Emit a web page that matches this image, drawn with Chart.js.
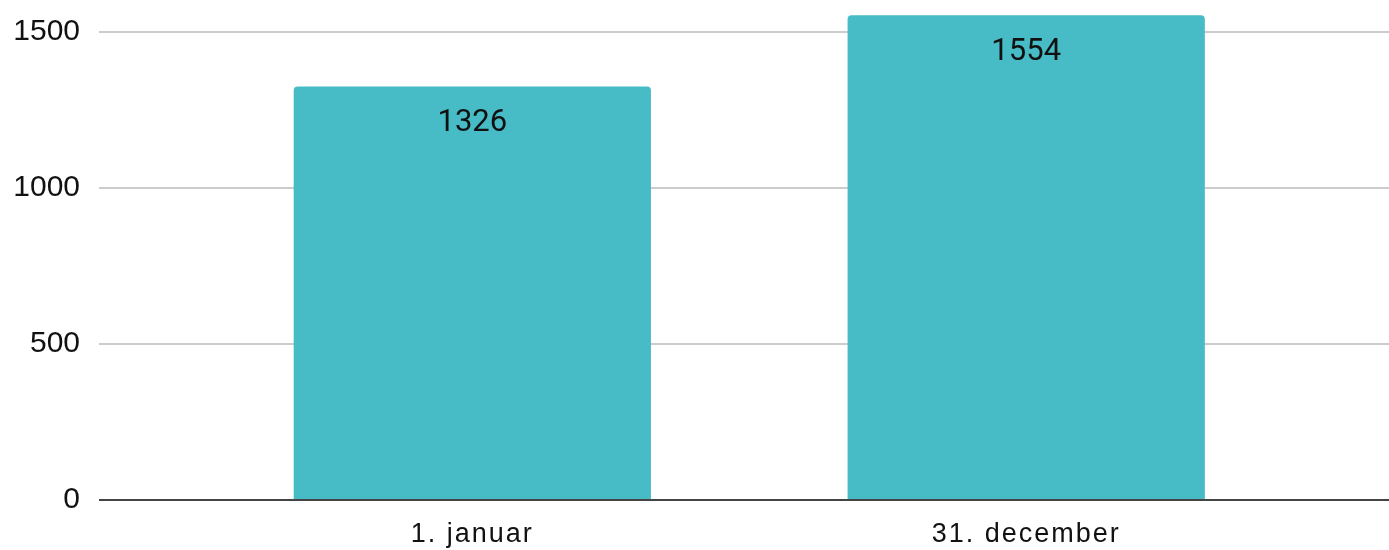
<!DOCTYPE html>
<html>
<head>
<meta charset="utf-8">
<script src="https://cdn.jsdelivr.net/npm/chart.js@4/dist/chart.umd.min.js"></script>
<style>
    body { margin: 0; background: #fff; }
    .wrap { width: 1389px; height: 550px; }
</style>
</head>
<body>
<div class="wrap"><canvas id="chart"></canvas></div>
<script>
// Data
const categories = ['1. januar', '31. december']
const values = [1326, 1554]
const yTicks = [0, 500, 1000, 1500]

let canvas = document.querySelector('#chart')

// value labels inside the top of each bar,
// then spaced-out letters for the category labels (drawn after datasets, z: 1)
const barLabels = {
    id: 'barLabels',
    afterDatasetsDraw(chart) {
        let ctx = chart.ctx
        let meta = chart.getDatasetMeta(0)
        ctx.save()
        ctx.letterSpacing = '0px'
        ctx.font = '31px Roboto'
        ctx.fillStyle = '#111'
        ctx.textAlign = 'center'
        ctx.textBaseline = 'alphabetic'
        meta.data.forEach((bar, i) => {
            ctx.fillText(String(values[i]), bar.x, bar.y + 45)
        })
        ctx.restore()
        ctx.letterSpacing = '2px'
    },
    afterDraw(chart) {
        chart.ctx.letterSpacing = '0px'
    }
}

const data = {
    datasets: [
        {
            data: values.map((v, i) => ({ x: i, y: v })),
            backgroundColor: '#47bbc6',
            borderWidth: 0,
            borderRadius: { topLeft: 4, topRight: 4 },
            borderSkipped: 'start',
            categoryPercentage: 1,
            barPercentage: 0.645
        }
    ]
}

const config = {
    type: 'bar',
    data: data,
    plugins: [barLabels],
    options: {
        responsive: true,
        maintainAspectRatio: false,
        animation: false,
        layout: {
            padding: { top: 1, left: 0, right: 0, bottom: 0 }
        },
        plugins: {
            legend: { display: false },
            tooltip: { enabled: false }
        },
        scales: {
            x: {
                type: 'linear',
                offset: false,
                min: -0.674,
                max: 1.655,
                afterBuildTicks: (scale) => {
                    scale.ticks = categories.map((c, i) => ({ value: i }))
                },
                afterFit: (scale) => {
                    scale.height = 50
                    scale.paddingLeft = 0
                    scale.paddingRight = 0
                },
                grid: { display: false },
                border: { display: false },
                ticks: {
                    z: 1,
                    callback: (value) => categories[value],
                    color: '#111',
                    padding: 10,
                    maxRotation: 0,
                    autoSkip: false,
                    font: { family: "'Liberation Sans', Arial", size: 27 }
                }
            },
            y: {
                min: 0,
                max: 1600,
                afterBuildTicks: (scale) => {
                    scale.ticks = yTicks.map(v => ({ value: v }))
                },
                afterFit: (scale) => {
                    scale.width = 99
                    scale.paddingTop = 0
                    scale.paddingBottom = 0
                },
                grid: {
                    color: (c) => c.tick && c.tick.value === 0 ? '#444' : '#cccccc',
                    lineWidth: 2,
                    drawTicks: false
                },
                border: { display: false },
                ticks: {
                    callback: (value) => String(value),
                    color: '#111',
                    padding: 19,
                    font: { family: "'Liberation Sans', Arial", size: 30 }
                }
            }
        }
    }
}

new Chart(canvas, config)
</script>
</body>
</html>
